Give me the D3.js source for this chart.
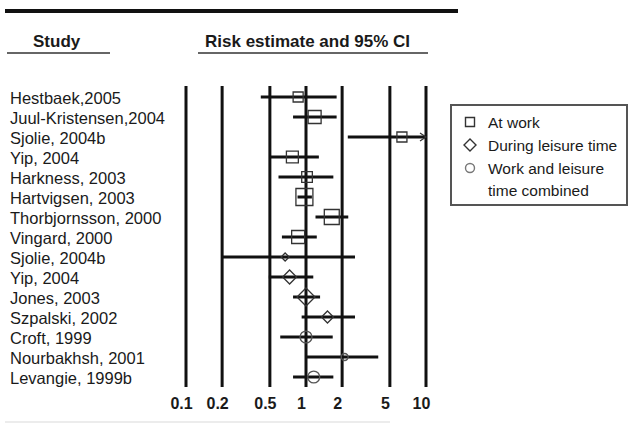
<!DOCTYPE html>
<html>
<head>
<meta charset="utf-8">
<script src="https://cdn.jsdelivr.net/npm/d3@7"></script>
<style>
  body { margin: 0; background: #fff; }
  svg text { font-family: "Liberation Sans", Arial, Helvetica, sans-serif; fill: #1a1a1a; }
</style>
</head>
<body>
<div id="chart"></div>
<script>
// Data
var studies = ['Hestbaek,2005', 'Juul-Kristensen,2004', 'Sjolie, 2004b', 'Yip, 2004',
  'Harkness, 2003', 'Hartvigsen, 2003', 'Thorbjornsson, 2000', 'Vingard, 2000',
  'Sjolie, 2004b', 'Yip, 2004', 'Jones, 2003', 'Szpalski, 2002', 'Croft, 1999',
  'Nourbakhsh, 2001', 'Levangie, 1999b']
var exposure = ['work', 'work', 'work', 'work', 'work', 'work', 'work', 'work',
  'leisure', 'leisure', 'leisure', 'leisure', 'combined', 'combined', 'combined']
var estimate = [0.86, 1.18, 6.3, 0.77, 1.02, 0.97, 1.64, 0.86, 0.67, 0.73, 1.0, 1.51, 1.0, 2.1, 1.16]
var lower    = [0.42, 0.78, 2.23, 0.50, 0.59, 0.85, 1.20, 0.63, 0.20, 0.49, 0.78, 0.92, 0.61, 1.01, 0.78]
var upper    = [1.80, 1.80, 12, 1.28, 1.69, 1.12, 2.25, 1.23, 2.56, 1.15, 1.31, 2.56, 1.67, 4.0, 1.69]
var weight   = [31, 52, 31, 44, 35, 89, 69, 52, 20, 60, 100, 44, 44, 15, 44]

var tickValues = [0.1, 0.2, 0.5, 1, 2, 5, 10]
var legendLabels = [['At work'], ['During leisure time'], ['Work and leisure', 'time combined']]
var legendTypes = ['work', 'leisure', 'combined']

var width = 630, height = 432

var svg = d3.select('#chart').append('svg')
    .attr('width', width)
    .attr('height', height)

var x = d3.scaleLog()
    .domain([0.1, 10])
    .range([186, 426])

var y = d3.scalePoint()
    .domain(d3.range(studies.length))
    .range([97, 377])

var size = d3.scaleSqrt()
    .domain([0, 100])
    .range([0, 18])

function markerPath(type, s) {
  var h = s / 2
  if (type === 'work') {
    return 'M' + (-h) + ',' + (-h) + 'H' + h + 'V' + h + 'H' + (-h) + 'Z'
  }
  if (type === 'leisure') {
    return 'M0,' + (-h) + 'L' + h + ',0L0,' + h + 'L' + (-h) + ',0Z'
  }
  return d3.arc()({innerRadius: 0, outerRadius: h, startAngle: 0, endAngle: 2 * Math.PI})
}

// top rule
svg.append('line')
    .attr('x1', 5).attr('x2', 458)
    .attr('y1', 11).attr('y2', 11)
    .style('stroke', '#111')
    .style('stroke-width', 4)

// faint rule at the bottom
svg.append('line')
    .attr('x1', 5).attr('x2', 390)
    .attr('y1', 422).attr('y2', 422)
    .style('stroke', '#ececec')
    .style('stroke-width', 2)

// headers
svg.append('text')
    .attr('x', 33).attr('y', 47)
    .style('font-size', '17px').style('font-weight', 'bold')
    .text('Study')
svg.append('line')
    .attr('x1', 7).attr('x2', 110)
    .attr('y1', 53).attr('y2', 53)
    .style('stroke', '#333').style('stroke-width', 1.5)

svg.append('text')
    .attr('x', 205).attr('y', 47)
    .style('font-size', '17px').style('font-weight', 'bold')
    .text('Risk estimate and 95% CI')
svg.append('line')
    .attr('x1', 198).attr('x2', 428)
    .attr('y1', 53).attr('y2', 53)
    .style('stroke', '#333').style('stroke-width', 1.5)

// vertical reference lines
svg.selectAll('line.v')
    .data(tickValues)
  .enter().append('line')
    .attr('class', 'v')
    .attr('x1', function(d){ return x(d) })
    .attr('x2', function(d){ return x(d) })
    .attr('y1', 86)
    .attr('y2', 387)
    .style('stroke', '#111')
    .style('stroke-width', 3)

// tick labels
svg.selectAll('text.tick')
    .data(tickValues)
  .enter().append('text')
    .attr('class', 'tick')
    .attr('x', function(d){ return x(d) - 4.5 })
    .attr('y', 409)
    .attr('text-anchor', 'middle')
    .style('font-size', '16px')
    .style('font-weight', 'bold')
    .text(function(d){ return d3.format('')(d) })

// study labels
svg.selectAll('text.study')
    .data(studies)
  .enter().append('text')
    .attr('class', 'study')
    .attr('x', 10)
    .attr('y', function(d, i){ return y(i) + 6.5 })
    .style('font-size', '16.5px')
    .text(function(d){ return d })

var rows = studies.map(function(s, i){
  return {i: i, type: exposure[i], est: estimate[i], lo: lower[i], hi: upper[i], w: weight[i]}
})

var maxX = x.domain()[1]

// CI lines
svg.selectAll('line.ci')
    .data(rows)
  .enter().append('line')
    .attr('class', 'ci')
    .attr('x1', function(d){ return x(d.lo) })
    .attr('x2', function(d){ return x(Math.min(d.hi, maxX)) })
    .attr('y1', function(d){ return y(d.i) })
    .attr('y2', function(d){ return y(d.i) })
    .style('stroke', '#111')
    .style('stroke-width', 3)

// arrow for intervals running off the scale
svg.selectAll('path.arrow')
    .data(rows.filter(function(d){ return d.hi > maxX }))
  .enter().append('path')
    .attr('class', 'arrow')
    .attr('d', function(d){
      var ax = x(maxX), ay = y(d.i)
      return 'M' + (ax - 6) + ',' + (ay - 4) + 'L' + ax + ',' + ay + 'L' + (ax - 6) + ',' + (ay + 4)
    })
    .style('fill', 'none')
    .style('stroke', '#333')
    .style('stroke-width', 1.2)

// point estimates
svg.selectAll('path.marker')
    .data(rows)
  .enter().append('path')
    .attr('class', 'marker')
    .attr('transform', function(d){ return 'translate(' + x(d.est) + ',' + y(d.i) + ')' })
    .attr('d', function(d){ return markerPath(d.type, size(d.w)) })
    .style('fill', 'none')
    .style('stroke', function(d){ return d.type === 'combined' ? '#555' : '#333' })
    .style('stroke-width', 1.3)

// legend
var legend = svg.append('g')
legend.append('rect')
    .attr('x', 451).attr('y', 105)
    .attr('width', 176).attr('height', 100)
    .style('fill', 'none')
    .style('stroke', '#555')
    .style('stroke-width', 2)

var legendY = [122, 145, 168]
legendTypes.forEach(function(t, i){
  legend.append('path')
    .attr('transform', 'translate(470,' + legendY[i] + ')')
    .attr('d', markerPath(t, t === 'leisure' ? 12 : 9))
    .style('fill', 'none')
    .style('stroke', t === 'combined' ? '#777' : '#333')
    .style('stroke-width', 1.4)
  legendLabels[i].forEach(function(line, j){
    legend.append('text')
      .attr('x', 488)
      .attr('y', legendY[i] + 5.5 + j * 22)
      .style('font-size', '15.5px')
      .text(line)
  })
})
</script>
</body>
</html>
